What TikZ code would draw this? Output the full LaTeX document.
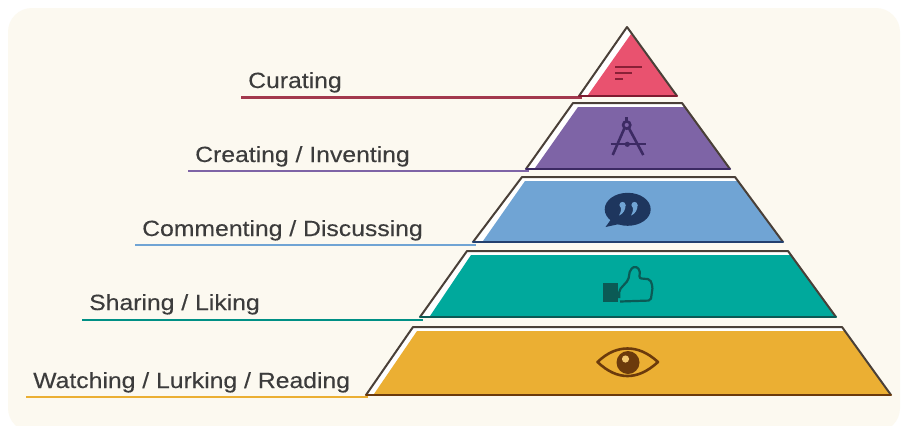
\documentclass[tikz,border=0pt]{standalone}
\usepackage{fontspec}
\setmainfont[FakeStretch=1.125,FakeBold=0.25]{Liberation Sans}
\definecolor{bgc}{HTML}{FCF9F0}
\definecolor{redf}{HTML}{E9526F}\definecolor{redd}{HTML}{7E1B30}
\definecolor{purf}{HTML}{7E64A6}\definecolor{purd}{HTML}{3C2A63}
\definecolor{bluf}{HTML}{70A4D4}\definecolor{blud}{HTML}{23406E}
\definecolor{teaf}{HTML}{00A99C}\definecolor{tead}{HTML}{0B5A55}
\definecolor{golf}{HTML}{EBAF33}\definecolor{gold}{HTML}{6B3A0C}
\definecolor{edge}{HTML}{4A4038}
\definecolor{txt}{HTML}{3C3C3C}
\tikzset{
  lab/.style={font=\fontsize{22}{24}\selectfont,text=txt,anchor=base west,inner sep=0pt},
  outl/.style={draw=edge,line width=2pt,line join=round},
  rim/.style={line width=2.4pt,line cap=round},
  leader/.style={line width=2.6pt}
}
\begin{document}
\begin{tikzpicture}[x=1pt,y=-1pt]
\useasboundingbox (0,0) rectangle (901,426);
\fill[white] (0,0) rectangle (901,426);
\fill[bgc,rounded corners=24pt] (8,8) rectangle (900,432);
\fill[white] (0,426) rectangle (901,432);
% labels
\node[lab] (l1) at (248,88) {Curating};
\node[lab] (l2) at (195,162) {Creating / Inventing};
\node[lab] (l3) at (142,236) {Commenting / Discussing};
\node[lab] (l4) at (89,310) {Sharing / Liking};
\node[lab] (l5) at (33,388) {Watching / Lurking / Reading};
% leader anchors
\coordinate (a1) at (241,97.5); \coordinate (b1) at (582,97.5);
\coordinate (a2) at (188,171);  \coordinate (b2) at (529,171);
\coordinate (a3) at (135,245);  \coordinate (b3) at (476,245);
\coordinate (a4) at (82,320);   \coordinate (b4) at (423,320);
\coordinate (a5) at (26,397);   \coordinate (b5) at (368,397);
\draw[leader,draw=redf!70!black] (a1) -- (b1);
\draw[leader,draw=purf] (a2) -- (b2);
\draw[leader,draw=bluf] (a3) -- (b3);
\draw[leader,draw=teaf!85!black] (a4) -- (b4);
\draw[leader,draw=golf] (a5) -- (b5);
% red
\fill[white] (579,96) -- (627,27) -- (677,96) -- cycle;
\fill[redf] (631,34) -- (676,95) -- (588,95) -- cycle;
\draw[outl] (579,96) -- (627,27) -- (677,96);
\draw[rim,redd] (579,96) -- (677,96);
% purple
\fill[white] (526,169) -- (573,103) -- (682,103) -- (730,169) -- cycle;
\fill[purf] (578,107) -- (685,107) -- (729,168) -- (535,168) -- cycle;
\draw[outl] (526,169) -- (573,103) -- (682,103) -- (730,169);
\draw[rim,purd] (526,169) -- (730,169);
% blue
\fill[white] (473,242) -- (522,177) -- (735,177) -- (783,242) -- cycle;
\fill[bluf] (525,181) -- (738,181) -- (782,241) -- (483,241) -- cycle;
\draw[outl] (473,242) -- (522,177) -- (735,177) -- (783,242);
\draw[rim,blud] (473,242) -- (783,242);
% teal
\fill[white] (420,317) -- (467,251) -- (788,251) -- (836,317) -- cycle;
\fill[teaf] (471,255) -- (791,255) -- (835,316) -- (430,316) -- cycle;
\draw[outl] (420,317) -- (467,251) -- (788,251) -- (836,317);
\draw[rim,tead] (420,317) -- (836,317);
% gold
\fill[white] (366,395) -- (413,327) -- (842,327) -- (891,395) -- cycle;
\fill[golf] (417,331) -- (845,331) -- (890,394) -- (374,394) -- cycle;
\draw[outl] (366,395) -- (413,327) -- (842,327) -- (891,395);
\draw[rim,gold] (366,395) -- (891,395);
% curating icon
\draw[line width=2pt,redd!90!redf] (615,66.7) -- (641.7,66.7) (615,72.7) -- (631.7,72.7) (615,79.3) -- (623,79.3);
% compass icon
\begin{scope}[draw=purd,line width=2.6pt]
\draw (626.7,117) -- (626.7,121);
\draw (626.7,125) circle (3.6);
\draw (624.5,128) -- (612.7,155) (628.8,128) -- (643.3,155);
\draw[line width=2pt] (610.7,144.3) -- (646,144.3);
\fill[purd] (627.3,144.3) circle (2.6);
\end{scope}
% speech icon
\fill[blud!85!black] (627.7,209.3) ellipse (23 and 16.5);
\fill[blud!85!black] (612,218) -- (605.5,227) -- (624,223) -- cycle;
\fill[bluf] (622.5,205) circle (3.1) (634.5,205) circle (3.1);
\fill[bluf] (625.6,205) .. controls (625.6,210) and (623,214) .. (619,215.5) .. controls (621,212) and (621.5,209) .. (621,206) -- cycle;
\fill[bluf] (637.6,205) .. controls (637.6,210) and (635,214) .. (631,215.5) .. controls (633,212) and (633.5,209) .. (633,206) -- cycle;
% thumb icon
\fill[tead] (602.7,282.7) rectangle (618,301.7);
\draw[tead,line width=2.2pt,line join=round,rounded corners=2pt] (619.3,298) -- (619.3,290) -- (628.3,280) -- (630,270) -- (635,266) -- (640,270) -- (639.3,278.3) -- (650,279.3) -- (652.7,286.7) -- (650.7,300.5) -- (620,301.5);
% eye icon
\draw[gold,line width=2.6pt,line join=round] (597.5,362) .. controls (608,352) and (618,348.5) .. (627.5,348.5) .. controls (637,348.5) and (647,352) .. (658,362) .. controls (647,372) and (637,376) .. (627.5,376) .. controls (618,376) and (608,372) .. (597.5,362) -- cycle;
\fill[gold] (628,362.5) circle (11.5);
\fill[golf!70!white] (625.5,359) circle (3.6);
\end{tikzpicture}
\end{document}
